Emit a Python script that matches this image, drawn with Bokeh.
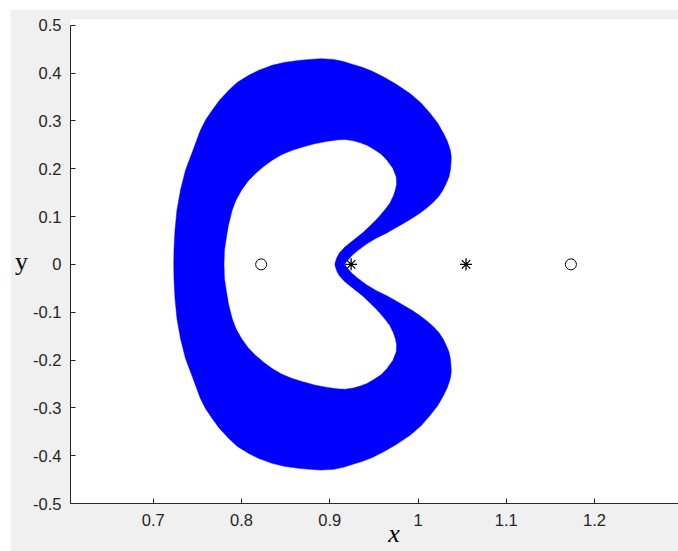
from bokeh.plotting import figure
from bokeh.models import Range1d, FixedTicker, Spacer
from bokeh.layouts import column, row
from bokeh.embed import file_html
from bokeh.resources import INLINE

# ---- outline (upper half; the shape is mirror-symmetric about y = 0)
outer_upper_x = [0.7233, 0.7235, 0.7247, 0.7269, 0.7309, 0.7366, 0.7451, 0.7535, 0.7592,
                 0.7668, 0.7751, 0.7856, 0.7954, 0.8082, 0.8192, 0.8347, 0.8486, 0.8648,
                 0.8781, 0.8894, 0.9041, 0.9154, 0.9234, 0.9369, 0.9483, 0.9611, 0.9754,
                 0.9913, 1.0037, 1.0139, 1.0224, 1.0290, 1.0332, 1.0366, 1.0377, 1.0373,
                 1.0366, 1.0349, 1.0320, 1.0281, 1.0236, 1.0173, 1.0094, 1.0020, 0.9936,
                 0.9839, 0.9743, 0.9641, 0.9528, 0.9415, 0.9324, 0.9256, 0.9205, 0.9166]
outer_upper_y = [0.0000, 0.0299, 0.0716, 0.1134, 0.1551, 0.1969, 0.2386, 0.2804, 0.3013,
                 0.3221, 0.3430, 0.3639, 0.3806, 0.3952, 0.4056, 0.4161, 0.4223, 0.4265,
                 0.4286, 0.4301, 0.4286, 0.4244, 0.4196, 0.4119, 0.4036, 0.3917, 0.3764,
                 0.3570, 0.3367, 0.3152, 0.2950, 0.2735, 0.2574, 0.2386, 0.2240, 0.2109,
                 0.1969, 0.1823, 0.1697, 0.1551, 0.1426, 0.1301, 0.1175, 0.1071, 0.0967,
                 0.0862, 0.0758, 0.0653, 0.0549, 0.0424, 0.0299, 0.0194, 0.0090, 0.0000]
inner_upper_x = [0.7802, 0.7807, 0.7830, 0.7852, 0.7894, 0.7937, 0.8000, 0.8073, 0.8158,
                 0.8254, 0.8347, 0.8452, 0.8574, 0.8702, 0.8837, 0.8973, 0.9098, 0.9177,
                 0.9268, 0.9347, 0.9423, 0.9500, 0.9585, 0.9649, 0.9715, 0.9754, 0.9758,
                 0.9743, 0.9720, 0.9681, 0.9630, 0.9573, 0.9522, 0.9454, 0.9381, 0.9313,
                 0.9228, 0.9171, 0.9109, 0.9081, 0.9064, 0.9058]
inner_upper_y = [0.0000, 0.0299, 0.0576, 0.0820, 0.1134, 0.1342, 0.1551, 0.1739, 0.1900,
                 0.2052, 0.2177, 0.2292, 0.2386, 0.2459, 0.2526, 0.2574, 0.2605, 0.2610,
                 0.2585, 0.2543, 0.2491, 0.2407, 0.2303, 0.2177, 0.2010, 0.1829, 0.1676,
                 0.1551, 0.1426, 0.1280, 0.1155, 0.1029, 0.0925, 0.0800, 0.0674, 0.0570,
                 0.0445, 0.0361, 0.0236, 0.0142, 0.0048, 0.0000]

circle_x = [0.8223, 1.1732]
circle_y = [0.0, 0.0]
star_x = [0.9242, 1.0544]
star_y = [0.0, 0.0]

x_ticks = [0.7, 0.8, 0.9, 1.0, 1.1, 1.2]
x_tick_labels = ["0.7", "0.8", "0.9", "1", "1.1", "1.2"]
y_ticks = [-0.5, -0.4, -0.3, -0.2, -0.1, 0.0, 0.1, 0.2, 0.3, 0.4, 0.5]
y_tick_labels = ["-0.5", "-0.4", "-0.3", "-0.2", "-0.1", "0", "0.1", "0.2", "0.3", "0.4", "0.5"]

# ---- closed rings (lower half = mirror of the upper half)
outer_x = outer_upper_x + outer_upper_x[-2:0:-1]
outer_y = outer_upper_y + [-v for v in outer_upper_y[-2:0:-1]]
inner_x = inner_upper_x + inner_upper_x[-2:0:-1]
inner_y = inner_upper_y + [-v for v in inner_upper_y[-2:0:-1]]
inner_x = inner_x[::-1]
inner_y = inner_y[::-1]

AX = "#262626"

p = figure(width=668, height=542, output_backend="svg", toolbar_location=None,
           x_range=Range1d(0.6063, 1.2951), y_range=Range1d(-0.5, 0.512),
           min_border_left=60, min_border_right=0, min_border_top=10, min_border_bottom=48)
p.background_fill_color = "white"
p.border_fill_color = "#f0f0f0"
p.outline_line_color = None
p.grid.visible = False

p.multi_polygons(xs=[[[outer_x, inner_x]]], ys=[[[outer_y, inner_y]]],
                 fill_color="#0000ff", line_color="#0000ff", line_width=0.5)

p.scatter(circle_x, circle_y, marker="circle", size=11, fill_color=None,
          line_color="black", line_width=1)
p.scatter(star_x, star_y, marker="asterisk", size=12, line_color="black", line_width=1.3)

for ax in (p.xaxis[0], p.yaxis[0]):
    ax.axis_line_color = AX
    ax.major_tick_line_color = AX
    ax.major_tick_in = 5
    ax.major_tick_out = 0
    ax.minor_tick_line_color = None
    ax.major_label_text_font = "Liberation Sans"
    ax.major_label_text_font_size = "16.5px"
    ax.major_label_text_color = AX
    ax.axis_label_text_font = "Liberation Serif"
    ax.axis_label_text_font_size = "26px"
    ax.axis_label_text_color = "black"

p.xaxis[0].ticker = FixedTicker(ticks=x_ticks)
p.xaxis[0].major_label_overrides = dict(zip(x_ticks, x_tick_labels))
p.xaxis[0].major_label_standoff = 10
p.xaxis[0].axis_label = "\u00a0" * 6 + "x"
p.xaxis[0].axis_label_text_font_style = "italic"
p.xaxis[0].axis_label_standoff = -10

p.yaxis[0].ticker = FixedTicker(ticks=y_ticks)
p.yaxis[0].major_label_overrides = dict(zip(y_ticks, y_tick_labels))
p.yaxis[0].major_label_standoff = 9
p.yaxis[0].bounds = (-0.5, 0.5)
p.yaxis[0].axis_label = "y"
p.yaxis[0].axis_label_orientation = "horizontal"
p.yaxis[0].axis_label_text_font_style = "normal"
p.yaxis[0].axis_label_standoff = 2

layout = column(Spacer(height=9), row(Spacer(width=10), p))

open("out.html", "w").write(file_html(layout, INLINE))
